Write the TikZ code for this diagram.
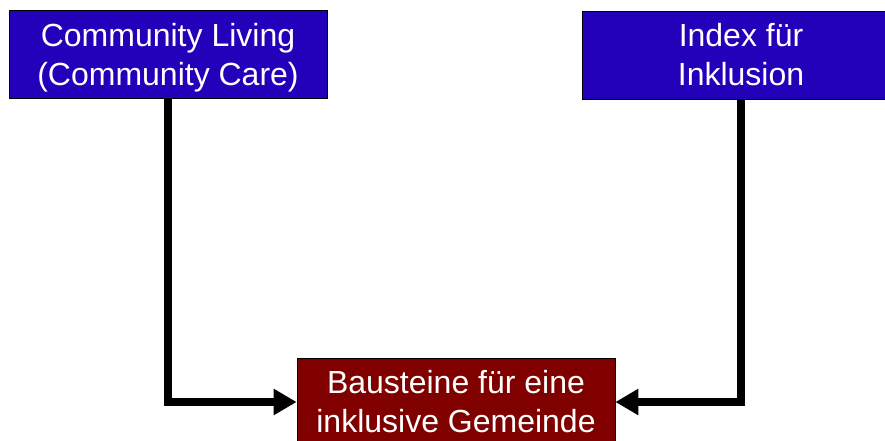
\documentclass[tikz,border=0pt]{standalone}
\usepackage{fontspec}
\setmainfont{Liberation Sans}
\usetikzlibrary{arrows.meta, positioning}
\definecolor{boxblue}{RGB}{35,0,185}
\definecolor{boxred}{RGB}{128,0,0}
\begin{document}
\begin{tikzpicture}[x=1pt,y=-1pt,
    block/.style={draw=black,line width=0.8pt,text=white,align=center,
        minimum width=318pt,minimum height=88pt,inner sep=0pt,
        font=\fontsize{32}{39}\selectfont},
    link/.style={line width=7.5pt,-{Triangle[length=23pt,width=25pt]}}]
    \useasboundingbox (0,0) rectangle (885,441);
    \node[block,fill=boxblue] (comm) at (168,54) {Community Living\\\smash{(Community Care)}};
    \node[block,fill=boxblue] (index) at (741,55) {Index für\\Inklusion};
    %
    \node[block,fill=boxred] (bau) at (456,402) {Bausteine für eine\\inklusive Gemeinde};
    \draw[link] (comm.south) |- (bau.west);
    \draw[link] (index.south) |- (bau.east);
\end{tikzpicture}
\end{document}
